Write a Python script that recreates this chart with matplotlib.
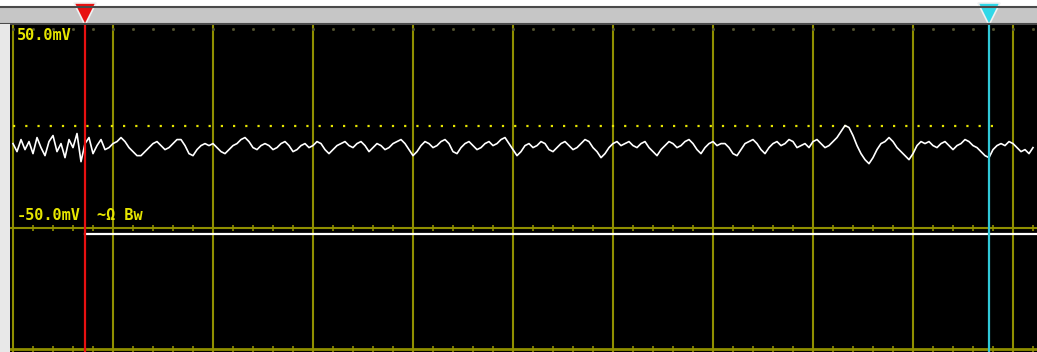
import numpy as np
import matplotlib
matplotlib.use("Agg")
import matplotlib.pyplot as plt

# scope settings (x in divisions, y in mV)
cursor_a = 0.72
cursor_b = 9.76
trig_level = 0.8
trig_end = 9.82
ref_line = -53.0
top_label = "50.0mV"
bot_label = "-50.0mV"
bw_label = "~Ω Bw"
sample_step = 0.04

trace = [
    -8, -12, -6, -11, -7, -13, -5, -10, -14, -7, -4, -12, -8, -15, -6, -10,
    -3, -17, -8, -5, -13, -9, -6, -11, -10, -8, -7, -5, -7, -10, -12, -14,
    -14, -12, -10, -8, -7, -9, -11, -10, -8, -6, -6, -9, -13, -14, -11, -9,
    -8, -9, -8, -10, -12, -13, -11, -9, -8, -6, -5, -7, -10, -11, -9, -8,
    -9, -11, -10, -8, -7, -9, -12, -11, -9, -8, -10, -9, -7, -8, -11, -13,
    -11, -9, -8, -7, -9, -10, -8, -7, -9, -12, -10, -8, -9, -11, -10, -8,
    -7, -6, -8, -11, -14, -12, -9, -7, -8, -10, -9, -7, -6, -8, -12, -13,
    -10, -8, -7, -9, -11, -10, -8, -7, -9, -8, -6, -5, -8, -11, -14, -12,
    -9, -8, -10, -9, -7, -8, -11, -12, -10, -8, -7, -9, -11, -10, -8, -6,
    -7, -10, -12, -15, -13, -10, -8, -7, -9, -8, -7, -9, -10, -8, -7, -10,
    -12, -14, -11, -9, -7, -8, -10, -9, -7, -6, -8, -11, -13, -10, -8, -7,
    -9, -8, -8, -10, -13, -14, -11, -8, -7, -6, -8, -11, -13, -10, -8, -7,
    -9, -8, -6, -7, -10, -9, -8, -10, -7, -6, -8, -10, -9, -7, -5, -2,
    1, 0, -4, -9, -13, -16, -18, -15, -11, -8, -7, -5, -7, -10, -12, -14,
    -16, -13, -9, -7, -8, -7, -9, -10, -8, -7, -9, -11, -9, -8, -6, -7,
    -9, -10, -12, -14, -15, -11, -9, -8, -9, -7, -8, -10, -12, -11, -13, -10,
]

W, H = 1037, 352
olive = "#8f8f00"
ylab = "#e6e600"

fig = plt.figure(figsize=(W / 100, H / 100), dpi=100, facecolor="white")

# pixel -> division helper for axes placement
def px2div(px):
    return (px - 13) / 100.0

# cursor bar along the top
bar = fig.add_axes([0, 1 - 24 / H, 1, 17 / H])
bar.set_facecolor("#c6c6c6")
bar.set_xlim(px2div(0), px2div(W))
bar.set_ylim(0, 1)
bar.set_xticks([])
bar.set_yticks([])
for s in ["top", "bottom"]:
    bar.spines[s].set_color("#4a4a4a")
    bar.spines[s].set_linewidth(1.5)
for s in ["left", "right"]:
    bar.spines[s].set_visible(False)
bar.plot([cursor_a], [0.6], marker="v", markersize=16, color="#e81010",
         markeredgecolor="#f0f0f0", markeredgewidth=1.2, clip_on=False)
bar.plot([cursor_b], [0.6], marker="v", markersize=16, color="#30d8e8",
         markeredgecolor="#f0f0f0", markeredgewidth=1.2, clip_on=False)

# light strip at the left edge
strip = fig.add_axes([0, 0, 10 / W, 1 - 24 / H])
strip.set_facecolor("#e8e8e8")
strip.set_xticks([])
strip.set_yticks([])
for s in strip.spines.values():
    s.set_visible(False)

# scope screen
ax = fig.add_axes([10 / W, 0, 1 - 10 / W, (H - 25) / H])
ax.set_facecolor("black")
ax.set_xlim(px2div(10), px2div(W))
ax.set_ylim(-111.7, 51)
ax.set_xticks([])
ax.set_yticks([])
for s in ax.spines.values():
    s.set_visible(False)

# vertical graticule
for d in range(0, 11):
    ax.axvline(d, color=olive, lw=1.5, zorder=1)

# minor tick dots along top, -50 mV line and bottom
minor = np.arange(0, 10.3, 0.2)
ax.plot(minor, np.full(len(minor), 49), ls="none", marker="s", markersize=1.0,
        color="#555530", zorder=1)
ax.axhline(-50, color=olive, lw=1.5, zorder=1)
ax.plot(minor, np.full(len(minor), -50), ls="none", marker="|", markersize=4,
        markeredgewidth=1.2, color=olive, zorder=1)
ax.axhline(-110.2, color=olive, lw=2, zorder=1)
ax.plot(minor, np.full(len(minor), -110.2), ls="none", marker="|", markersize=4,
        markeredgewidth=1.2, color=olive, zorder=1)

# trigger level dotted line
ax.plot([0, trig_end], [trig_level, trig_level], color=ylab, lw=1.6,
        ls=(0, (1, 4.5)), zorder=2)

# reference line
ax.plot([cursor_a, px2div(W)], [ref_line, ref_line], color="white", lw=1.6, zorder=2)

# signal trace
tx = np.arange(len(trace)) * sample_step
ax.plot(tx, trace, color="white", lw=1.2, zorder=3)

# cursors
ax.axvline(cursor_a, color="#e81010", lw=1.6, zorder=4)
ax.axvline(cursor_b, color="#30c8d8", lw=1.6, zorder=4)

# labels
font = dict(family="DejaVu Sans Mono", fontweight="bold", fontsize=11, color=ylab)
ax.text(0.04, 49.5, top_label, va="top", ha="left", zorder=5, **font)
ax.text(0.04, -44, bot_label, va="center", ha="left", zorder=5, **font)
ax.text(0.84, -44, bw_label, va="center", ha="left", zorder=5, **font)

fig.savefig("out.png", dpi=100, facecolor="white")
